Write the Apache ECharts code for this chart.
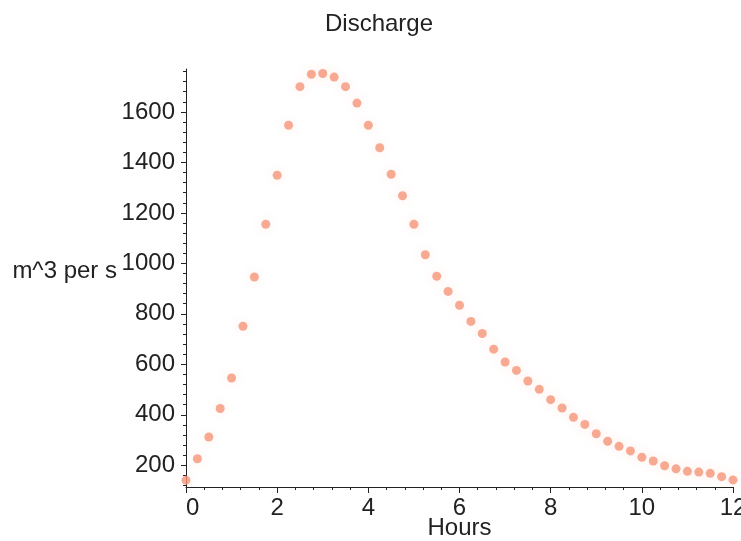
<!DOCTYPE html>
<html>
<head>
<meta charset="utf-8">
<script src="https://cdn.jsdelivr.net/npm/echarts@6/dist/echarts.min.js"></script>
<style>html,body{margin:0;padding:0;background:#fff}#c{width:741px;height:541px}</style>
</head>
<body>
<div id="c"></div>
<script>
var hours = [0, 0.25, 0.5, 0.75, 1, 1.25, 1.5, 1.75, 2, 2.25, 2.5, 2.75, 3, 3.25, 3.5, 3.75, 4, 4.25, 4.5, 4.75, 5, 5.25, 5.5, 5.75, 6, 6.25, 6.5, 6.75, 7, 7.25, 7.5, 7.75, 8, 8.25, 8.5, 8.75, 9, 9.25, 9.5, 9.75, 10, 10.25, 10.5, 10.75, 11, 11.25, 11.5, 11.75, 12];
var discharge = [141, 226, 312, 425, 546, 751, 946, 1155, 1349, 1547, 1700, 1749, 1752, 1738, 1700, 1635, 1547, 1458, 1353, 1268, 1155, 1034, 949, 889, 834, 770, 722, 660, 609, 576, 534, 501, 460, 427, 390, 362, 325, 295, 275, 257, 232, 217, 198, 186, 176, 173, 168, 155, 142];
var yMajorTicks = [200, 400, 600, 800, 1000, 1200, 1400, 1600];
var yMinorTicks = [120, 160, 240, 280, 320, 360, 440, 480, 520, 560, 640, 680, 720, 760, 840, 880, 920, 960, 1040, 1080, 1120, 1160, 1240, 1280, 1320, 1360, 1440, 1480, 1520, 1560, 1640, 1680, 1720, 1760];

var points = hours.map(function (h, i) { return [h, discharge[i]]; });
var font = 'Liberation Sans, Arial, sans-serif';
var chart = echarts.init(document.getElementById('c'));
chart.setOption({
  animation: false,
  backgroundColor: '#fff',
  title: {
    text: 'Discharge',
    left: 320, top: 7,
    textStyle: { fontFamily: font, fontSize: 24, fontWeight: 'normal', color: '#222' }
  },
  grid: { left: 186, right: 8, top: 69, bottom: 54, outerBoundsMode: 'none', containLabel: false },
  xAxis: {
    type: 'value', min: 0, max: 12, interval: 2,
    name: 'Hours', nameLocation: 'middle', nameGap: 29, nameMoveOverlap: false,
    nameTextStyle: { fontFamily: font, fontSize: 24, color: '#222' },
    axisLine: { show: true, lineStyle: { color: '#222', width: 1 } },
    axisTick: { show: true, length: 6, lineStyle: { color: '#222' } },
    minorTick: { show: true, splitNumber: 5, length: 3, lineStyle: { color: '#222' } },
    splitLine: { show: false },
    axisLabel: { margin: 9, fontFamily: font, fontSize: 24, color: '#222', alignMinLabel: 'left',
      formatter: function (v) { return String(v); } }
  },
  yAxis: [{
    type: 'value', min: 114, max: 1770,
    name: 'm^3 per s', nameLocation: 'middle', nameGap: 69, nameRotate: 0, nameMoveOverlap: false,
    nameTextStyle: { fontFamily: font, fontSize: 24, color: '#222', align: 'right', verticalAlign: 'bottom', lineHeight: 14 },
    axisLine: { show: true, lineStyle: { color: '#222', width: 1 } },
    axisTick: { show: true, length: 5, customValues: yMajorTicks, lineStyle: { color: '#222' } },
    splitLine: { show: false },
    axisLabel: { margin: 11, customValues: yMajorTicks, fontFamily: font, fontSize: 24, color: '#222',
      formatter: function (v) { return String(v); } }
  }, {
    type: 'value', min: 114, max: 1770, position: 'left',
    axisLine: { show: false },
    axisTick: { show: true, length: 3, customValues: yMinorTicks, lineStyle: { color: '#222' } },
    splitLine: { show: false },
    axisLabel: { show: false }
  }],
  series: [{
    type: 'scatter',
    data: points,
    symbol: 'circle',
    symbolSize: 9,
    itemStyle: {
      color: '#f59578',
      shadowBlur: 12,
      shadowColor: 'rgba(245,150,120,0.25)'
    }
  }]
});
</script>
</body>
</html>
